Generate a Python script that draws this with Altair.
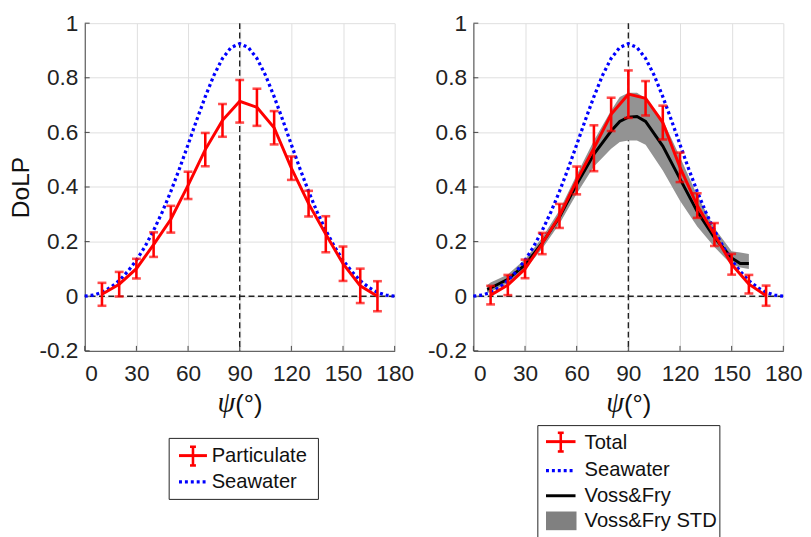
import altair as alt
import pandas as pd

# ---------------- data ----------------
psi = [10, 20, 30, 40, 50, 60, 70, 80, 90, 100, 110, 120, 130, 140, 150, 160, 170]

part_mean = [0.007, 0.044, 0.101, 0.189, 0.282, 0.406, 0.537, 0.644, 0.714, 0.692,
             0.617, 0.469, 0.339, 0.227, 0.119, 0.038, 0.0]
part_err = [0.042, 0.045, 0.036, 0.045, 0.049, 0.05, 0.061, 0.06, 0.078, 0.068,
            0.061, 0.043, 0.047, 0.066, 0.063, 0.063, 0.055]

total_mean = [0.004, 0.041, 0.1, 0.193, 0.294, 0.424, 0.542, 0.666, 0.74, 0.725,
              0.636, 0.472, 0.332, 0.226, 0.117, 0.044, 0.002]
total_err = [0.034, 0.037, 0.034, 0.039, 0.044, 0.051, 0.084, 0.061, 0.087, 0.063,
             0.062, 0.054, 0.045, 0.042, 0.038, 0.034, 0.037]

sea_psi = [0, 5, 10, 15, 20, 25, 30, 35, 40, 45, 50, 55, 60, 65, 70, 75, 80, 85, 90,
           95, 100, 105, 110, 115, 120, 125, 130, 135, 140, 145, 150, 155, 160, 165,
           170, 175, 180]
sea_dolp = [0.0, 0.004, 0.014, 0.032, 0.057, 0.091, 0.132, 0.182, 0.241, 0.308, 0.384,
            0.467, 0.555, 0.645, 0.731, 0.809, 0.871, 0.911, 0.925,
            0.911, 0.871, 0.809, 0.731, 0.645, 0.555, 0.467, 0.384, 0.308, 0.241,
            0.182, 0.132, 0.091, 0.057, 0.032, 0.014, 0.004, 0.0]

vf_psi = [8, 10, 20, 30, 40, 50, 60, 70, 80, 85, 90, 95, 100, 110, 120, 130, 140, 150, 155, 160]
vf_mean = [0.025, 0.03, 0.062, 0.115, 0.195, 0.29, 0.41, 0.52, 0.605, 0.64, 0.656, 0.658,
           0.64, 0.55, 0.43, 0.31, 0.215, 0.14, 0.12, 0.12]
vf_lo = [0.012, 0.015, 0.048, 0.098, 0.175, 0.265, 0.375, 0.475, 0.54, 0.565, 0.57, 0.57,
         0.555, 0.46, 0.35, 0.255, 0.18, 0.115, 0.105, 0.1]
vf_hi = [0.04, 0.05, 0.08, 0.135, 0.215, 0.315, 0.445, 0.57, 0.68, 0.73, 0.745, 0.745,
         0.725, 0.645, 0.51, 0.37, 0.25, 0.165, 0.16, 0.155]

x_ticks = [0, 30, 60, 90, 120, 150, 180]
y_ticks = [-0.2, 0, 0.2, 0.4, 0.6, 0.8, 1]

left_legend = ["Particulate", "Seawater"]
right_legend = ["Total", "Seawater", "Voss&Fry", "Voss&Fry STD"]

# ---------------- styling ----------------
SANS = "Liberation Sans"
SERIF = "Liberation Serif"
RED = "#ff0000"
BLUE = "#0000ff"
GRAY = "#939393"
W, H = 315, 333

part_df = pd.DataFrame({"psi": psi, "dolp": part_mean,
                        "lo": [m - e for m, e in zip(part_mean, part_err)],
                        "hi": [m + e for m, e in zip(part_mean, part_err)]})
total_df = pd.DataFrame({"psi": psi, "dolp": total_mean,
                         "lo": [m - e for m, e in zip(total_mean, total_err)],
                         "hi": [m + e for m, e in zip(total_mean, total_err)]})
sea_df = pd.DataFrame({"psi": sea_psi, "dolp": sea_dolp})
vf_df = pd.DataFrame({"psi": vf_psi, "dolp": vf_mean, "lo": vf_lo, "hi": vf_hi})
xt_df = pd.DataFrame({"psi": x_ticks})
yt_df = pd.DataFrame({"dolp": y_ticks})
one = pd.DataFrame({"k": [0]})


def x_enc(field="psi:Q"):
    return alt.X(field, scale=alt.Scale(domain=[0, 180], nice=False, zero=False),
                 axis=alt.Axis(values=x_ticks, title=None, grid=True, ticks=False,
                               labelFontSize=23, labelFont=SANS, labelColor="#222",
                               labelPadding=12, domainColor="#444", domainWidth=1,
                               gridColor="#dedede", gridWidth=1,
                               labelAlign={"condition": {"test": "datum.value == 0", "value": "left"},
                                           "value": "center"}))


def y_enc(field, title):
    kw = dict(values=y_ticks, grid=True, ticks=False, labelFontSize=23, labelFont=SANS,
              labelColor="#222", labelPadding=7, domainColor="#444", domainWidth=1,
              gridColor="#dedede", gridWidth=1,
              labelExpr="datum.value < 0 ? '-' + format(-datum.value, '') : format(datum.value, '')")
    if title:
        kw.update(title=title, titleFont=SANS, titleFontSize=25, titleFontWeight="normal",
                  titleColor="#111", titlePadding=6)
    else:
        kw.update(title=None)
    return alt.Y(field, scale=alt.Scale(domain=[-0.2, 1], nice=False, zero=False),
                 axis=alt.Axis(**kw))


def inner_ticks(title):
    xt = alt.Chart(xt_df).mark_rule(color="#444", strokeWidth=1).encode(
        x=x_enc(), y=alt.value(H), y2=alt.value(H - 5))
    yt = alt.Chart(yt_df).mark_rule(color="#444", strokeWidth=1).encode(
        y=y_enc("dolp:Q", title), x=alt.value(0), x2=alt.value(5))
    return [xt, yt]


def ref_lines():
    h = alt.Chart(one).mark_rule(color="#222", strokeWidth=1.4, strokeDash=[6, 3.5]).encode(
        y=alt.datum(0))
    v = alt.Chart(one).mark_rule(color="#222", strokeWidth=1.4, strokeDash=[6, 3.5]).encode(
        x=alt.datum(90))
    return [h, v]


def sea_layer(title):
    return alt.Chart(sea_df).mark_line(color=BLUE, strokeWidth=3.3, strokeDash=[3, 3],
                                       strokeCap="butt").encode(
        x=x_enc(), y=y_enc("dolp:Q", title))


def red_layers(df, title):
    line = alt.Chart(df).mark_line(color=RED, strokeWidth=3).encode(
        x=x_enc(), y=y_enc("dolp:Q", title))
    bars = alt.Chart(df).mark_rule(color=RED, strokeWidth=2.6).encode(
        x=x_enc(), y=y_enc("lo:Q", title), y2="hi:Q")
    caps = alt.Chart(df).transform_fold(["lo", "hi"], as_=["k", "v"]).mark_tick(
        color=RED, orient="horizontal", size=9, thickness=2.6).encode(
        x=x_enc(), y=y_enc("v:Q", title))
    return [line, bars, caps]


def xtitle():
    psi_t = alt.Chart(one).mark_text(text="ψ", font=SERIF, fontStyle="italic", fontSize=29,
                                     align="center", baseline="alphabetic", color="#111").encode(
        x=alt.value(144), y=alt.value(395))
    deg_t = alt.Chart(one).mark_text(text="(°)", font=SANS, fontSize=26,
                                     align="left", baseline="alphabetic", color="#111").encode(
        x=alt.value(153), y=alt.value(396))
    return [psi_t, deg_t]


def rule_px(x1, x2, y1, y2, **kw):
    return alt.Chart(one).mark_rule(**kw).encode(
        x=alt.value(x1), x2=alt.value(x2), y=alt.value(y1), y2=alt.value(y2))


def text_px(txt, x, y):
    return alt.Chart(one).mark_text(text=txt, font=SANS, fontSize=20.5, align="left",
                                    baseline="middle", color="#111").encode(
        x=alt.value(x), y=alt.value(y))


def legend(labels, box, sx0, sx1, tx, rows):
    layers = [alt.Chart(one).mark_rect(fill="white", stroke="#222", strokeWidth=1).encode(
        x=alt.value(box[0]), x2=alt.value(box[1]), y=alt.value(box[2]), y2=alt.value(box[3]))]
    cx = (sx0 + sx1) / 2
    for lab, ry in zip(labels, rows):
        if lab in ("Particulate", "Total"):
            layers.append(rule_px(sx0, sx1, ry - 1, ry - 1, color=RED, strokeWidth=3))
            layers.append(rule_px(cx, cx, ry - 10, ry + 9, color=RED, strokeWidth=2.6))
            layers.append(rule_px(cx - 3, cx + 3, ry - 10, ry - 10, color=RED, strokeWidth=2.6))
            layers.append(rule_px(cx - 3, cx + 3, ry + 9, ry + 9, color=RED, strokeWidth=2.6))
        elif lab == "Seawater":
            layers.append(rule_px(sx0, sx1, ry, ry, color=BLUE, strokeWidth=3.3,
                                  strokeDash=[3, 3], strokeCap="butt"))
        elif lab == "Voss&Fry":
            layers.append(rule_px(sx0, sx1, ry, ry, color="black", strokeWidth=3))
        else:
            layers.append(alt.Chart(one).mark_rect(fill="#808080").encode(
                x=alt.value(sx0), x2=alt.value(sx1 + 1), y=alt.value(ry - 10), y2=alt.value(ry + 9)))
        layers.append(text_px(lab, tx, ry))
    return layers


left = alt.layer(
    *ref_lines(),
    *inner_ticks("DoLP"),
    sea_layer("DoLP"),
    *red_layers(part_df, "DoLP"),
    *xtitle(),
    *legend(left_legend, (85.8, 237.5, 422, 484), 95.8, 124.2, 129, [440.5, 466.3]),
).properties(width=W, height=H)

band = alt.Chart(vf_df).mark_area(color=GRAY, opacity=1).encode(
    x=x_enc(), y=y_enc("lo:Q", None), y2="hi:Q")
vf_line = alt.Chart(vf_df).mark_line(color="black", strokeWidth=3).encode(
    x=x_enc(), y=y_enc("dolp:Q", None))

right = alt.layer(
    *ref_lines(),
    *inner_ticks(None),
    band,
    vf_line,
    sea_layer(None),
    *red_layers(total_df, None),
    *xtitle(),
    *legend(right_legend, (65.5, 250.5, 409, 530), 73.8, 103.8, 113,
            [426.3, 454.7, 480.3, 506.3]),
).properties(width=W, height=H)

chart = alt.hconcat(left, right, spacing=13).properties(
    padding={"left": 0, "top": 0, "right": 0, "bottom": 0}
).configure_view(stroke=None)

chart.save("out.html", embed_options={"renderer": "svg", "actions": False})
